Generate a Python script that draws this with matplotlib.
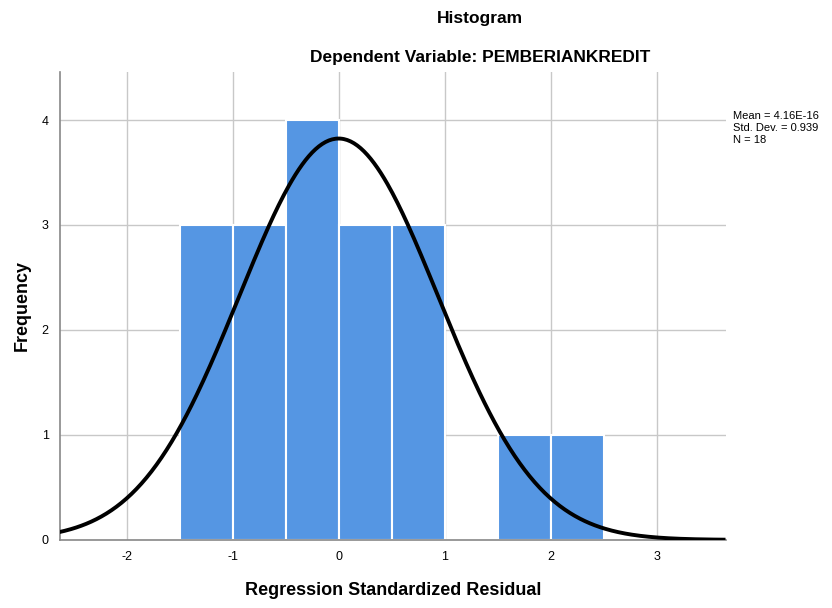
import numpy as np
import matplotlib.pyplot as plt

# histogram bins (regression standardized residual) and counts
bin_edges = [-1.5, -1.0, -0.5, 0.0, 0.5, 1.0, 1.5, 2.0, 2.5]
counts = [3, 3, 4, 3, 3, 0, 1, 1]
mean = 4.16e-16
std_dev = 0.939
n = 18
xticks = [-2, -1, 0, 1, 2, 3]
yticks = [0, 1, 2, 3, 4]

plt.rcParams['font.family'] = ['Liberation Sans', 'DejaVu Sans']
plt.rcParams['axes.unicode_minus'] = False

fig = plt.figure(figsize=(8.32, 6.08), dpi=100)
ax = fig.add_axes([0.072, 0.112, 0.8, 0.770])

lefts = np.array(bin_edges[:-1])
widths = np.diff(bin_edges)
ax.bar(lefts, counts, width=widths, align='edge', color='#5596e3',
       edgecolor='white', linewidth=1.5, zorder=2)

# normal curve scaled to counts
binw = widths[0]
xs = np.linspace(-2.65, 3.65, 400)
pdf = np.exp(-0.5 * ((xs - mean) / std_dev) ** 2) / (std_dev * np.sqrt(2 * np.pi))
ax.plot(xs, n * binw * pdf, color='black', lw=2.8, zorder=3,
        solid_capstyle='butt')

ax.set_xlim(-2.63, 3.65)
ax.set_ylim(0, 4.46)
ax.set_xticks(xticks)
ax.set_yticks(yticks)
ax.grid(True, color='#c8c8c8', lw=1, zorder=0)
ax.set_axisbelow(True)
ax.tick_params(length=0, labelsize=9, pad=8)
for s in ['top', 'right']:
    ax.spines[s].set_visible(False)
for s in ['left', 'bottom']:
    ax.spines[s].set_color('#888888')
    ax.spines[s].set_linewidth(1.2)

ax.set_xlabel('Regression Standardized Residual', fontsize=13,
              fontweight='bold', labelpad=14)
ax.set_ylabel('Frequency', fontsize=13, fontweight='bold', labelpad=8)

fig.text(0.577, 0.97, 'Histogram', ha='center', va='center', fontsize=12.5,
         fontweight='bold')
fig.text(0.577, 0.906, 'Dependent Variable: PEMBERIANKREDIT', ha='center',
         va='center', fontsize=12.5, fontweight='bold')

fig.text(0.881, 0.818,
         'Mean = 4.16E-16\nStd. Dev. = 0.939\nN = 18',
         ha='left', va='top', fontsize=8, linespacing=1.25)

fig.savefig('out.png')
